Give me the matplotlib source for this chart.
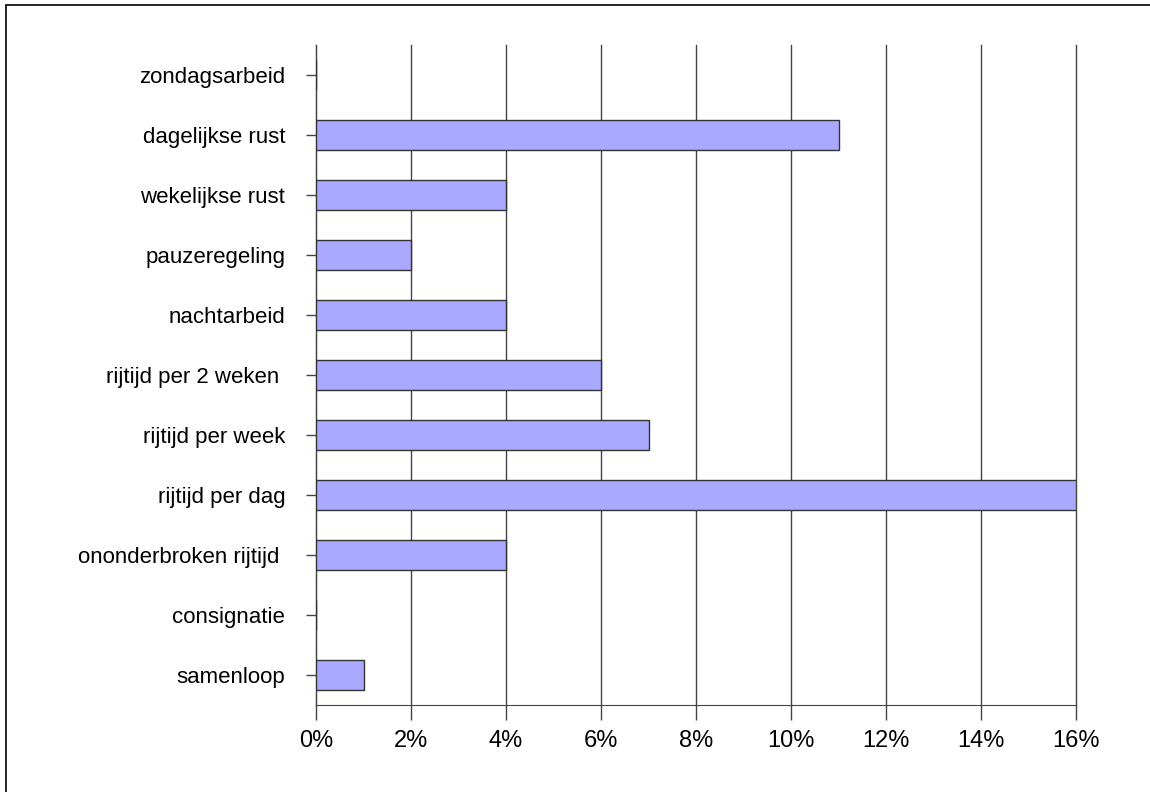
import matplotlib.pyplot as plt
from matplotlib.patches import Rectangle

plt.rcParams['font.family'] = ['Liberation Sans', 'DejaVu Sans']

categories = ['zondagsarbeid', 'dagelijkse rust', 'wekelijkse rust', 'pauzeregeling',
              'nachtarbeid', 'rijtijd per 2 weken ', 'rijtijd per week', 'rijtijd per dag',
              'ononderbroken rijtijd ', 'consignatie', 'samenloop']
values = [0, 11, 4, 2, 4, 6, 7, 16, 4, 0, 1]
xticks = [0, 2, 4, 6, 8, 10, 12, 14, 16]
xtick_labels = ['0%', '2%', '4%', '6%', '8%', '10%', '12%', '14%', '16%']

fig = plt.figure(figsize=(11.5, 7.92), dpi=100)
ax = fig.add_axes([316 / 1150, 87 / 792, 760 / 1150, 660 / 792])

# frame round the figure (top and left visible)
fig.patches.append(Rectangle((6 / 1150, -0.1), 1.2, (787 / 792) + 0.1,
                             transform=fig.transFigure, fill=False,
                             edgecolor='black', linewidth=1.2))

pos = list(range(len(categories)))[::-1]
ax.barh(pos, values, height=0.5, color='#a9a9ff', edgecolor='#333333', linewidth=1, zorder=3)

ax.set_xlim(0, 16)
ax.set_ylim(-0.5, len(categories) - 0.5)
ax.set_xticks(xticks)
ax.set_xticklabels(xtick_labels, fontsize=17)
ax.set_yticks(pos)
ax.set_yticklabels(categories, fontsize=16)

ax.grid(axis='x', color='#444444', linewidth=1, zorder=0)
for gl in ax.xaxis.get_gridlines():
    gl.set_clip_on(False)
for s in ['top', 'right']:
    ax.spines[s].set_visible(False)
ax.spines['left'].set_color('#444444')
ax.spines['bottom'].set_color('#444444')
ax.tick_params(axis='x', length=11, width=1, color='#444444', pad=7)
ax.tick_params(axis='y', length=7.2, width=1, color='#444444', pad=15)

fig.savefig('out.png', dpi=100)
